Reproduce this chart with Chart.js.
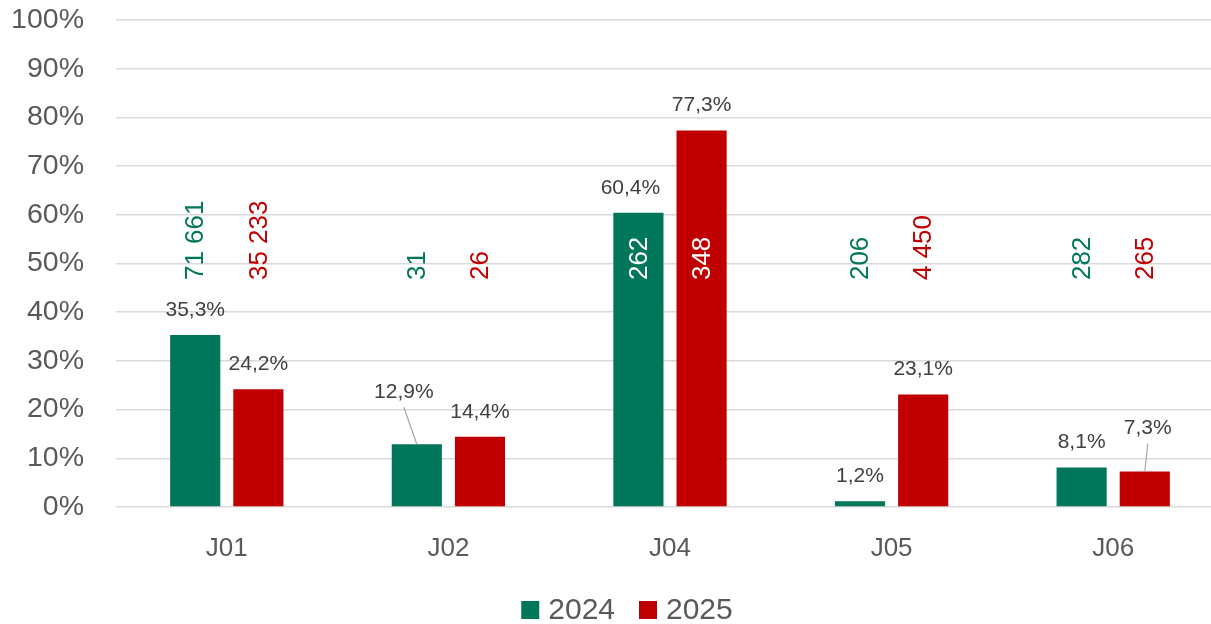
<!DOCTYPE html>
<html><head><meta charset="utf-8">
<script src="https://cdn.jsdelivr.net/npm/chart.js@4/dist/chart.umd.min.js"></script>
<style>
html,body{margin:0;padding:0;background:#fff;overflow:hidden;}
#wrap{width:1211px;height:624px;overflow:hidden;position:relative;}
#c{position:absolute;left:0;top:0;}
</style></head><body>
<div id="wrap"><canvas id="c" width="1226" height="624"></canvas></div>
<script>
// ---- data ----
const categories = ['J01', 'J02', 'J04', 'J05', 'J06'];
const seriesNames = ['2024', '2025'];
const share2024 = [35.3, 12.9, 60.4, 1.2, 8.1];
const share2025 = [24.2, 14.4, 77.3, 23.1, 7.3];
const count2024 = [71661, 31, 262, 206, 282];
const count2025 = [35233, 26, 348, 4450, 265];
const yTickValues = [0, 10, 20, 30, 40, 50, 60, 70, 80, 90, 100];

// ---- styles ----
const colors = ['#00765A', '#C00000'];
const FONT = '"Liberation Sans", Arial, sans-serif';
const counts = [count2024, count2025];
// label nudges (pixels) keyed "dataset-index"
const labelNudge = {
  '0-1': { dx: -13, dy: -27, leader: true },
  '0-2': { dx: -8, dy: 0 },
  '1-4': { dx: 3, dy: -18, leader: true }
};

const fmtPct = v => v.toFixed(1).replace('.', ',') + '%';
const fmtCount = n => String(n).replace(/\B(?=(\d{3})+(?!\d))/g, '\u00A0');

const labelsPlugin = {
  id: 'labels',
  afterDatasetsDraw(chart) {
    const ctx = chart.ctx;
    const y = chart.scales.y;
    const countBaseY = y.getPixelForValue(46.6);
    chart.data.datasets.forEach((ds, di) => {
      const meta = chart.getDatasetMeta(di);
      meta.data.forEach((bar, i) => {
        // percentage label
        const nudge = labelNudge[di + '-' + i] || { dx: 0, dy: 0 };
        const lx = bar.x + nudge.dx;
        const ly = bar.y - 25 + nudge.dy;
        ctx.save();
        ctx.font = '21px ' + FONT;
        ctx.fillStyle = '#404040';
        ctx.textAlign = 'center';
        ctx.textBaseline = 'middle';
        ctx.fillText(fmtPct(ds.data[i]), lx, ly);
        if (nudge.leader) {
          ctx.strokeStyle = '#A6A6A6';
          ctx.lineWidth = 1.2;
          ctx.beginPath();
          ctx.moveTo(lx, ly + 15);
          ctx.lineTo(bar.x, bar.y);
          ctx.stroke();
        }
        ctx.restore();
        // rotated count label
        const txt = fmtCount(counts[di][i]);
        ctx.save();
        ctx.font = '26px ' + FONT;
        const w = ctx.measureText(txt).width;
        const inside = bar.y < countBaseY - w;
        ctx.fillStyle = inside ? '#FFFFFF' : colors[di];
        ctx.translate(bar.x, countBaseY);
        ctx.rotate(-Math.PI / 2);
        ctx.textAlign = 'left';
        ctx.textBaseline = 'middle';
        ctx.fillText(txt, 0, 1);
        ctx.restore();
      });
    });
  }
};

const legendPlugin = {
  id: 'customLegend',
  afterDraw(chart) {
    const ctx = chart.ctx;
    ctx.save();
    ctx.font = '30px ' + FONT;
    const box = 18, gapBox = 9, gapItem = 24;
    const widths = seriesNames.map(s => ctx.measureText(s).width);
    let total = 0;
    widths.forEach((w, k) => { total += box + gapBox + w + (k ? gapItem : 0); });
    let x = 627 - total / 2;
    const cy = 610;
    seriesNames.forEach((s, k) => {
      ctx.fillStyle = colors[k];
      ctx.fillRect(x, cy - box / 2, box, box);
      x += box + gapBox;
      ctx.fillStyle = '#595959';
      ctx.textAlign = 'left';
      ctx.textBaseline = 'middle';
      ctx.fillText(s, x, cy + 1);
      x += widths[k] + gapItem;
    });
    ctx.restore();
  }
};

new Chart(document.getElementById('c'), {
  type: 'bar',
  data: {
    labels: categories,
    datasets: [
      { label: seriesNames[0], data: share2024, backgroundColor: colors[0] },
      { label: seriesNames[1], data: share2025, backgroundColor: colors[1] }
    ]
  },
  options: {
    responsive: false,
    animation: false,
    devicePixelRatio: 1,
    layout: { padding: { top: 20, right: 2, bottom: 0, left: 0 } },
    datasets: { bar: { categoryPercentage: 0.57, barPercentage: 0.794 } },
    plugins: { legend: { display: false }, tooltip: { enabled: false } },
    scales: {
      x: {
        grid: { display: false, drawTicks: false },
        border: { display: false },
        ticks: { color: '#595959', font: { family: FONT, size: 26 }, padding: 26 },
        afterFit(s) { s.height = 117; s.paddingLeft = 0; s.paddingRight = 0; }
      },
      y: {
        min: 0, max: 100,
        afterBuildTicks(s) { s.ticks = yTickValues.map(v => ({ value: v })); },
        grid: { color: '#D9D9D9', lineWidth: 1.5, drawTicks: false },
        border: { display: false },
        ticks: {
          color: '#595959', font: { family: FONT, size: 28.5 }, padding: 32,
          callback: v => v + '%'
        },
        afterFit(s) { s.width = 116; s.paddingTop = 0; s.paddingBottom = 0; }
      }
    }
  },
  plugins: [labelsPlugin, legendPlugin]
});
</script>
</body></html>
